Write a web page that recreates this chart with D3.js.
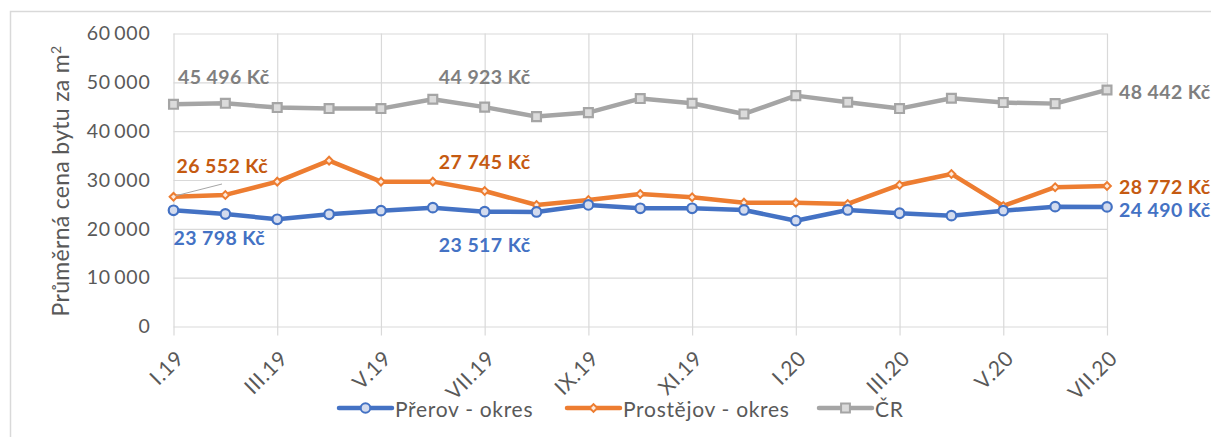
<!DOCTYPE html>
<html><head><meta charset="utf-8">
<script src="https://cdn.jsdelivr.net/npm/d3@7"></script>
<style>
html,body{margin:0;padding:0;background:#fff;}
svg{display:block;font-family:Lato,"Open Sans",sans-serif;}
</style></head>
<body>
<svg id="c" width="1211" height="437"></svg>
<script>
// ---------- DATA ----------
const months = ["I.19","II.19","III.19","IV.19","V.19","VI.19","VII.19","VIII.19","IX.19","X.19","XI.19","XII.19",
                "I.20","II.20","III.20","IV.20","V.20","VI.20","VII.20"];
const tickMonths = ["I.19","III.19","V.19","VII.19","IX.19","XI.19","I.20","III.20","V.20","VII.20"];
const yTicks = [0,10000,20000,30000,40000,50000,60000];
const seriesNames = ["Přerov - okres","Prostějov - okres","ČR"];
const prerov    = [23798,23040,21960,22980,23720,24340,23517,23450,24890,24210,24210,23860,21670,23860,23190,22700,23720,24540,24490];
const prostejov = [26552,26940,29660,33960,29660,29660,27745,24890,25910,27140,26470,25360,25360,25090,28990,31240,24690,28520,28772];
const cr        = [45496,45700,44830,44620,44620,46540,44923,42980,43800,46670,45720,43530,47280,45930,44620,46750,45850,45640,48442];
const labelledMonths = ["I.19","VII.19","VII.20"];
const yTitle = "Průměrná cena bytu za m";

// ---------- SETUP ----------
const svg = d3.select("#c");
const X0 = 173.5, X1 = 1107, Y0 = 326.5, Y1 = 33.5;
const x = d3.scalePoint(months, [X0, X1]);
const y = d3.scaleLinear([0, 60000], [Y0, Y1]);
const loc = d3.formatLocale({decimal:",", thousands:"\u2009", grouping:[3], currency:["","\u00a0Kč"]});
const fmtTick = loc.format(",d");
const fmtLab = v => loc.format(",d")(v).replace(/\u2009/g," ") + " Kč";

const styles = [
  {color:"#4472C4", fill:"#D3DBEE", label:"#4472C4", sym:"circle"},
  {color:"#ED7D31", fill:"#FDE9DC", label:"#C55A11", sym:"diamond"},
  {color:"#A5A5A5", fill:"#DBDBDB", label:"#7F7F7F", sym:"square"}
];
const allSeries = [prerov, prostejov, cr];

// chart border
svg.append("path").attr("d","M10.5,437 V11.5 H1211").attr("fill","none").attr("stroke","#D9D9D9").attr("stroke-width",1.5);

// y axis + horizontal gridlines
const gy = svg.append("g").attr("transform",`translate(${X0},0)`)
  .call(d3.axisLeft(y).tickValues(yTicks).tickSize(-(X1-X0)).tickPadding(23).tickFormat(fmtTick));
gy.select(".domain").remove();
gy.selectAll("line").attr("stroke","#D9D9D9").attr("stroke-width",1.2);
gy.selectAll("text").attr("fill","#595959").style("font-size","19.5px").style("letter-spacing","0.8px").attr("font-family","Lato");

// x axis + vertical gridlines
const gx = svg.append("g").attr("transform",`translate(0,${Y0})`)
  .call(d3.axisBottom(x).tickValues(tickMonths).tickSize(8).tickFormat(d=>d));
gx.select(".domain").remove();
gx.selectAll("line").attr("y1", -(Y0-Y1)).attr("y2", 9).attr("stroke","#D9D9D9").attr("stroke-width",1.2);
gx.selectAll("text")
  .attr("fill","#595959").style("font-size","21px").style("letter-spacing","0.6px").attr("font-family","Lato")
  .attr("text-anchor","end").attr("dy","0.35em").attr("y",0)
  .attr("transform","translate(6,28) rotate(-45)");

// y title
svg.append("text")
  .attr("transform","translate(69,181) rotate(-90)")
  .attr("text-anchor","middle").attr("fill","#595959")
  .style("font-size","23px").style("letter-spacing","0.3px").attr("font-family","Lato")
  .text(yTitle).append("tspan").attr("dy","-8").style("font-size","14px").text("2");

function symbolPath(kind, size){
  if(kind==="circle") return d3.symbol(d3.symbolCircle, size)();
  return d3.symbol(d3.symbolSquare, size)();
}
const symSize = {circle:72, diamond:30, square:78};

// lines & markers
const line = d3.line().x((d,i)=>x(months[i])).y(d=>y(d));
[2,1,0].forEach(si=>{
  const st = styles[si], data = allSeries[si];
  const g = svg.append("g");
  g.append("path").datum(data).attr("d",line).attr("fill","none")
    .attr("stroke",st.color).attr("stroke-width",4.5).attr("stroke-linejoin","round").attr("stroke-linecap","round");
  g.selectAll("path.m").data(data).join("path").attr("class","m")
    .attr("d",symbolPath(st.sym, symSize[st.sym]))
    .attr("transform",(d,i)=>`translate(${x(months[i])},${y(d)})` + (st.sym==="diamond"?" rotate(45)":""))
    .attr("fill",st.fill).attr("stroke",st.color).attr("stroke-width",st.sym==="diamond"?2:2.2);
});

// data labels
const labelStyle = sel => sel.style("font-size","19.5px").style("font-weight","700").style("letter-spacing","0.4px").attr("font-family","Lato").attr("dominant-baseline","central");
// offsets by series (first, middle, last)
const off = [
  [{dx:0,dy:27,a:"start"},{dx:0,dy:33,a:"middle"},{dx:12,dy:2.5,a:"start"}],
  [{dx:3,dy:-31,a:"start"},{dx:0,dy:-30,a:"middle"},{dx:12,dy:1,a:"start"}],
  [{dx:4.5,dy:-28,a:"start"},{dx:0,dy:-31,a:"middle"},{dx:12,dy:1.5,a:"start"}]
];
allSeries.forEach((data,si)=>{
  labelledMonths.forEach((m,k)=>{
    const i = months.indexOf(m), o = off[si][k];
    const px = x(m), py = y(data[i]);
    svg.append("text").attr("x",px+o.dx).attr("y",py+o.dy).attr("text-anchor",o.a)
      .attr("fill",styles[si].label).call(labelStyle).text(fmtLab(data[i]));
  });
});
// leader line for Prostějov first label
svg.append("line").attr("x1",x(months[0])+2).attr("y1",y(prostejov[0])-1).attr("x2",222).attr("y2",184)
  .attr("stroke","#A6A6A6").attr("stroke-width",1);

// legend
const legX = [338, 566, 818];
const LY = 408;
seriesNames.forEach((n,si)=>{
  const st = styles[si];
  const g = svg.append("g").attr("transform",`translate(${legX[si]},${LY})`);
  g.append("line").attr("x1",1).attr("x2",54).attr("stroke",st.color).attr("stroke-width",4.5).attr("stroke-linecap","round");
  g.append("path").attr("d",symbolPath(st.sym, symSize[st.sym]))
    .attr("transform",`translate(27.5,0)`+(st.sym==="diamond"?" rotate(45)":""))
    .attr("fill",st.fill).attr("stroke",st.color).attr("stroke-width",2);
  g.append("text").attr("x",57).attr("y",0).attr("dominant-baseline","central")
    .attr("fill","#595959").style("font-size","21px").style("letter-spacing","0.7px").attr("font-family","Lato").text(n);
});
</script>
</body></html>
